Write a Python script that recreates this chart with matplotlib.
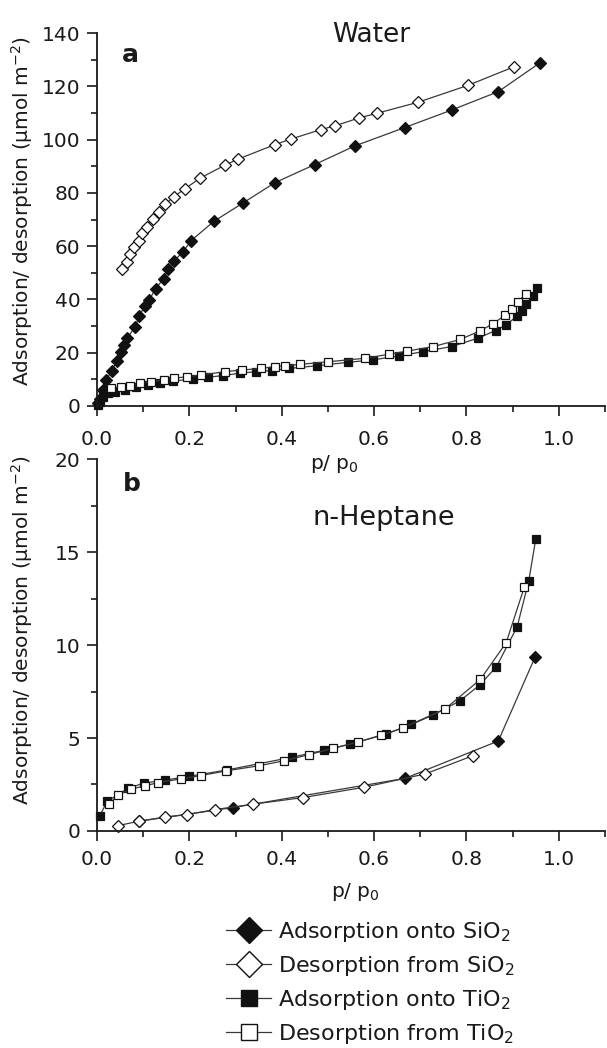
import matplotlib
matplotlib.use("Agg")
import matplotlib.pyplot as plt
from matplotlib.lines import Line2D
from matplotlib.ticker import MultipleLocator

plt.rcParams['font.family'] = ['DejaVu Sans']
plt.rcParams['mathtext.fontset'] = 'dejavusans'

# ---------------- Panel a : Water ----------------
water_sio2_ads_x = [0.003, 0.006, 0.013, 0.020, 0.032, 0.043, 0.051, 0.058, 0.066, 0.082, 0.092,
                    0.103, 0.113, 0.127, 0.144, 0.154, 0.167, 0.186, 0.204, 0.253, 0.317, 0.385,
                    0.471, 0.558, 0.666, 0.768, 0.869, 0.959]
water_sio2_ads_y = [1.0, 2.5, 6.0, 9.8, 13.3, 17.0, 20.4, 22.9, 25.4, 29.8, 33.8,
                    37.5, 39.8, 44.0, 47.8, 51.5, 54.5, 57.8, 62.1, 69.3, 76.3, 83.8,
                    90.6, 97.6, 104.5, 111.1, 118.0, 128.8]

water_sio2_des_x = [0.054, 0.064, 0.072, 0.080, 0.090, 0.098, 0.108, 0.121, 0.134, 0.148, 0.166,
                    0.190, 0.224, 0.277, 0.306, 0.385, 0.420, 0.484, 0.516, 0.567, 0.607, 0.695,
                    0.804, 0.904]
water_sio2_des_y = [51.3, 54.2, 57.1, 59.6, 62.1, 64.8, 67.3, 70.3, 72.8, 75.8, 78.5,
                    81.5, 85.6, 90.4, 92.7, 98.1, 100.2, 103.7, 105.2, 108.1, 109.9, 114.0,
                    120.4, 127.4]

water_tio2_ads_x = [0.002, 0.006, 0.013, 0.024, 0.038, 0.060, 0.084, 0.110, 0.136, 0.165, 0.208,
                    0.240, 0.272, 0.309, 0.345, 0.378, 0.416, 0.476, 0.544, 0.597, 0.654, 0.706,
                    0.768, 0.824, 0.863, 0.885, 0.910, 0.921, 0.930, 0.944, 0.953]
water_tio2_ads_y = [0.5, 1.6, 3.5, 4.8, 5.4, 6.0, 7.3, 7.9, 8.5, 9.4, 10.1,
                    10.8, 11.4, 12.3, 12.9, 13.3, 14.1, 15.1, 16.4, 17.3, 18.8, 20.4,
                    22.3, 25.4, 28.3, 30.4, 33.8, 35.8, 38.3, 41.4, 44.2]

water_tio2_des_x = [0.031, 0.051, 0.072, 0.094, 0.116, 0.144, 0.166, 0.195, 0.225, 0.277, 0.313,
                    0.356, 0.385, 0.407, 0.439, 0.500, 0.580, 0.632, 0.671, 0.728, 0.787, 0.829,
                    0.857, 0.883, 0.898, 0.912, 0.928]
water_tio2_des_y = [6.6, 7.3, 7.6, 8.5, 9.1, 9.8, 10.4, 11.0, 11.6, 12.9, 13.5,
                    14.1, 14.8, 15.1, 15.6, 16.6, 17.9, 19.4, 20.6, 22.3, 25.0, 28.2,
                    30.8, 34.0, 36.4, 39.2, 42.0]

# ---------------- Panel b : n-Heptane ----------------
hept_sio2_ads_x = [0.090, 0.295, 0.667, 0.869, 0.949]
hept_sio2_ads_y = [0.52, 1.26, 2.83, 4.84, 9.38]

hept_sio2_des_x = [0.046, 0.090, 0.147, 0.195, 0.255, 0.338, 0.447, 0.578, 0.711, 0.814]
hept_sio2_des_y = [0.29, 0.52, 0.75, 0.88, 1.15, 1.44, 1.80, 2.35, 3.07, 4.05]

hept_tio2_ads_x = [0.006, 0.022, 0.068, 0.101, 0.148, 0.200, 0.281, 0.423, 0.491, 0.548, 0.626,
                   0.681, 0.727, 0.786, 0.829, 0.865, 0.910, 0.935, 0.950]
hept_tio2_ads_y = [0.81, 1.60, 2.30, 2.57, 2.74, 2.94, 3.28, 3.97, 4.34, 4.67, 5.21,
                   5.73, 6.23, 7.00, 7.86, 8.84, 11.0, 13.47, 15.7]

hept_tio2_des_x = [0.026, 0.045, 0.073, 0.105, 0.133, 0.181, 0.225, 0.279, 0.351, 0.406, 0.458,
                   0.512, 0.566, 0.616, 0.663, 0.754, 0.830, 0.886, 0.925]
hept_tio2_des_y = [1.45, 1.92, 2.24, 2.44, 2.60, 2.80, 2.98, 3.23, 3.51, 3.78, 4.10,
                   4.45, 4.79, 5.16, 5.55, 6.57, 8.15, 10.13, 13.1]

legend_labels = [r'Adsorption onto SiO$_2$', r'Desorption from SiO$_2$',
                 r'Adsorption onto TiO$_2$', r'Desorption from TiO$_2$']

LINE_C = '#3a3a3a'
MK_C = '#111111'
DARK = '#1a1a1a'

styles = [dict(marker='D', mfc=MK_C, ms=6.6),
          dict(marker='D', mfc='white', ms=6.6),
          dict(marker='s', mfc=MK_C, ms=5.9),
          dict(marker='s', mfc='white', ms=5.9)]


def draw(ax, series):
    for (x, y), st in zip(series, styles):
        ax.plot(x, y, color=LINE_C, lw=0.9, marker=st['marker'], ms=st['ms'],
                mfc=st['mfc'], mec=MK_C, mew=0.9, clip_on=False)


def style_axes(ax, ymax, ymaj, ymin, xpad):
    ax.set_xlim(0, 1.1)
    ax.set_ylim(0, ymax)
    ax.patch.set_visible(False)
    for s in ['top', 'right']:
        ax.spines[s].set_visible(False)
    for s in ['left', 'bottom']:
        ax.spines[s].set_linewidth(1.3)
        ax.spines[s].set_color(DARK)
    ax.xaxis.set_major_locator(MultipleLocator(0.2))
    ax.xaxis.set_minor_locator(MultipleLocator(0.1))
    ax.yaxis.set_major_locator(MultipleLocator(ymaj))
    ax.yaxis.set_minor_locator(MultipleLocator(ymin))
    ax.tick_params(which='major', direction='out', length=7, width=1.2, color=DARK,
                   labelsize=14.5, labelcolor=DARK)
    ax.tick_params(which='minor', direction='out', length=4, width=1.2, color=DARK)
    ax.tick_params(axis='x', which='major', pad=xpad)
    ax.tick_params(axis='y', which='major', pad=5)
    ax.xaxis.set_major_formatter(plt.FuncFormatter(lambda v, p: f'{v:.1f}'))


fig = plt.figure(figsize=(6.07, 10.48), dpi=100)
ax_a = fig.add_axes([0.1598, 0.6126, 0.8369, 0.3559])
ax_b = fig.add_axes([0.1598, 0.2071, 0.8369, 0.3547])

draw(ax_a, [(water_sio2_ads_x, water_sio2_ads_y), (water_sio2_des_x, water_sio2_des_y),
            (water_tio2_ads_x, water_tio2_ads_y), (water_tio2_des_x, water_tio2_des_y)])
draw(ax_b, [(hept_sio2_ads_x, hept_sio2_ads_y), (hept_sio2_des_x, hept_sio2_des_y),
            (hept_tio2_ads_x, hept_tio2_ads_y), (hept_tio2_des_x, hept_tio2_des_y)])

style_axes(ax_a, 140, 20, 10, 10)
style_axes(ax_b, 20, 5, 2.5, 7)

ylab = 'Adsorption/ desorption (\u00b5mol m$^{-2}$)'
ax_a.set_ylabel(ylab, fontsize=14.5, color=DARK)
ax_b.set_ylabel(ylab, fontsize=14.5, color=DARK)
ax_a.yaxis.set_label_coords(-0.122, 0.523)
ax_b.yaxis.set_label_coords(-0.122, 0.54)

ax_a.set_xlabel(r'p/ p$_0$', fontsize=14.5, color=DARK)
ax_b.set_xlabel(r'p/ p$_0$', fontsize=14.5, color=DARK)
ax_a.xaxis.set_label_coords(0.468, -0.125)
ax_b.xaxis.set_label_coords(0.508, -0.135)

ax_a.text(0.539, 0.976, 'Water', transform=ax_a.transAxes, ha='center', va='baseline',
          fontsize=19, color=DARK)
ax_b.text(0.565, 0.823, 'n-Heptane', transform=ax_b.transAxes, ha='center', va='baseline',
          fontsize=19.5, color=DARK)
ax_a.text(0.049, 0.922, 'a', transform=ax_a.transAxes, ha='left', va='baseline',
          fontsize=18, fontweight='bold', color=DARK)
ax_b.text(0.051, 0.914, 'b', transform=ax_b.transAxes, ha='left', va='baseline',
          fontsize=18, fontweight='bold', color=DARK)

handles = []
for st in styles:
    handles.append(Line2D([], [], color=LINE_C, lw=0.9, marker=st['marker'],
                          ms=13 if st['marker'] == 'D' else 12, mfc=st['mfc'],
                          mec=MK_C, mew=1.0))
fig.legend(handles, legend_labels, loc='upper left', bbox_to_anchor=(0.372, 0.122),
           frameon=False, fontsize=16, handlelength=2.05, handletextpad=0.3,
           labelspacing=0.45, borderaxespad=0, borderpad=0, labelcolor=DARK)

fig.savefig('out.png', dpi=100)
